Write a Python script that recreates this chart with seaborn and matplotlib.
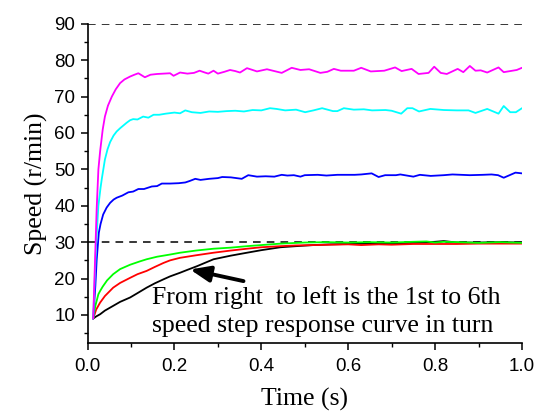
import numpy as np
import pandas as pd
import matplotlib
matplotlib.use("Agg")
import matplotlib.pyplot as plt
import seaborn as sns
from matplotlib.ticker import MultipleLocator

# ---- step response data (time in s, speed in r/min) ----
t_magenta = [0.013, 0.021, 0.025, 0.029, 0.035, 0.040, 0.047, 0.056, 0.065, 0.075, 0.085, 0.098,
             0.108, 0.117, 0.132, 0.145, 0.160, 0.175, 0.190, 0.198, 0.213, 0.230, 0.245, 0.258,
             0.270, 0.278, 0.290, 0.300, 0.315, 0.328, 0.340, 0.351, 0.367, 0.380, 0.390, 0.413,
             0.430, 0.447, 0.470, 0.490, 0.510, 0.536, 0.552, 0.567, 0.583, 0.613, 0.630, 0.652,
             0.683, 0.708, 0.723, 0.746, 0.762, 0.785, 0.798, 0.813, 0.827, 0.852, 0.865, 0.880,
             0.893, 0.905, 0.920, 0.946, 0.958, 0.988, 1.000]
v_magenta = [9.0, 39.0, 50.0, 55.0, 61.0, 64.5, 67.5, 70.0, 72.0, 73.7, 74.7, 75.5,
             76.0, 76.4, 75.3, 76.0, 76.2, 76.3, 76.4, 75.7, 76.6, 76.3, 76.5, 77.1,
             76.6, 76.3, 77.1, 76.3, 76.8, 77.3, 77.0, 76.6, 77.8, 77.3, 76.9, 77.5,
             77.0, 76.5, 77.9, 77.3, 77.5, 76.5, 76.8, 77.6, 77.1, 77.1, 77.9, 76.9,
             77.1, 78.0, 77.0, 77.6, 76.2, 76.5, 78.2, 76.5, 76.2, 77.6, 76.7, 78.4,
             77.1, 77.2, 76.6, 78.0, 76.7, 77.3, 77.9]

t_cyan = [0.013, 0.020, 0.025, 0.030, 0.033, 0.040, 0.046, 0.052, 0.060, 0.067, 0.075, 0.082,
          0.090, 0.098, 0.105, 0.115, 0.128, 0.140, 0.152, 0.165, 0.180, 0.200, 0.213, 0.225,
          0.240, 0.260, 0.280, 0.300, 0.320, 0.340, 0.360, 0.380, 0.400, 0.420, 0.435, 0.455,
          0.480, 0.501, 0.520, 0.540, 0.565, 0.575, 0.590, 0.613, 0.636, 0.655, 0.686, 0.700,
          0.722, 0.736, 0.748, 0.763, 0.789, 0.820, 0.850, 0.877, 0.893, 0.920, 0.946, 0.958,
          0.973, 0.986, 1.000]
v_cyan = [9.0, 30.0, 40.0, 45.0, 47.5, 52.7, 55.5, 57.5, 59.3, 60.4, 61.3, 62.0,
          62.8, 63.5, 63.8, 63.7, 64.5, 64.2, 65.0, 65.0, 65.3, 65.6, 65.4, 66.2,
          65.7, 65.5, 65.9, 65.8, 66.0, 66.1, 65.9, 66.3, 66.2, 66.8, 66.6, 66.2,
          66.4, 65.7, 66.2, 66.8, 66.0, 66.0, 66.8, 66.4, 66.5, 66.2, 66.3, 66.1,
          65.3, 66.8, 66.8, 65.9, 66.6, 66.3, 66.2, 66.2, 65.5, 66.6, 65.3, 67.4,
          65.7, 65.7, 66.8]

t_blue = [0.013, 0.018, 0.021, 0.026, 0.030, 0.036, 0.044, 0.052, 0.060, 0.067, 0.080, 0.094,
          0.105, 0.117, 0.130, 0.148, 0.160, 0.171, 0.190, 0.210, 0.225, 0.235, 0.248, 0.260,
          0.280, 0.300, 0.310, 0.330, 0.355, 0.370, 0.390, 0.410, 0.430, 0.447, 0.460, 0.475,
          0.490, 0.500, 0.530, 0.550, 0.575, 0.615, 0.630, 0.654, 0.670, 0.685, 0.710, 0.720,
          0.750, 0.765, 0.790, 0.820, 0.840, 0.880, 0.910, 0.930, 0.945, 0.958, 0.985, 1.000]
v_blue = [9.0, 18.0, 25.0, 32.6, 35.0, 37.6, 39.5, 40.8, 41.7, 42.2, 42.8, 43.7,
          43.9, 44.6, 44.6, 45.3, 45.4, 46.1, 46.1, 46.2, 46.4, 46.8, 47.4, 47.1,
          47.4, 47.6, 47.9, 47.8, 47.4, 48.4, 48.0, 48.1, 48.0, 48.5, 48.3, 48.4,
          48.0, 48.4, 48.5, 48.3, 48.5, 48.5, 48.6, 48.9, 47.9, 48.4, 48.4, 48.6,
          48.0, 48.5, 48.2, 48.4, 48.6, 48.4, 48.5, 48.6, 48.4, 47.7, 49.1, 48.9]

t_green = [0.013, 0.018, 0.025, 0.029, 0.035, 0.045, 0.059, 0.075, 0.098, 0.120, 0.136, 0.160,
           0.190, 0.213, 0.250, 0.290, 0.330, 0.367, 0.400, 0.444, 0.500, 0.550, 0.600, 0.650,
           0.700, 0.750, 0.780, 0.800, 0.820, 0.850, 0.900, 0.950, 1.000]
v_green = [9.0, 12.5, 15.7, 16.6, 17.8, 19.5, 21.2, 22.6, 23.8, 24.7, 25.3, 26.0,
           26.6, 27.1, 27.7, 28.2, 28.5, 28.9, 29.2, 29.6, 29.9, 30.0, 29.9, 30.0,
           29.9, 30.1, 30.2, 29.9, 30.1, 30.0, 29.8, 30.0, 29.8]

t_red = [0.013, 0.020, 0.029, 0.040, 0.059, 0.075, 0.098, 0.115, 0.136, 0.155, 0.175, 0.190,
         0.213, 0.250, 0.290, 0.330, 0.367, 0.400, 0.444, 0.480, 0.520, 0.560, 0.600, 0.630,
         0.670, 0.700, 0.750, 0.800, 0.850, 0.900, 0.950, 1.000]
v_red = [9.0, 11.5, 13.4, 15.2, 17.5, 18.8, 20.2, 21.2, 22.1, 23.2, 24.3, 25.0,
         25.7, 26.4, 27.1, 27.7, 28.2, 28.6, 28.9, 29.1, 29.2, 29.3, 29.4, 29.2,
         29.4, 29.3, 29.5, 29.5, 29.5, 29.6, 29.6, 29.6]

t_black = [0.013, 0.020, 0.029, 0.040, 0.059, 0.075, 0.098, 0.115, 0.136, 0.155, 0.175, 0.190,
           0.213, 0.230, 0.252, 0.270, 0.290, 0.330, 0.367, 0.400, 0.444, 0.480, 0.520, 0.560,
           0.600, 0.650, 0.700, 0.750, 0.800, 0.820, 0.850, 0.900, 0.950, 1.000]
v_black = [9.0, 9.6, 10.2, 11.2, 12.5, 13.6, 14.8, 16.0, 17.5, 18.7, 19.8, 20.6,
           21.6, 22.4, 23.4, 24.3, 25.3, 26.3, 27.1, 27.8, 28.6, 28.9, 29.2, 29.4,
           29.5, 29.6, 29.7, 29.8, 30.1, 30.3, 29.9, 29.9, 30.0, 29.9]

reference_speeds = [90, 30]

curves = {
    "black": (t_black, v_black),
    "red": (t_red, v_red),
    "green": (t_green, v_green),
    "blue": (t_blue, v_blue),
    "cyan": (t_cyan, v_cyan),
    "magenta": (t_magenta, v_magenta),
}
palette = {"black": "#000000", "red": "#FF0000", "green": "#00FF00",
           "blue": "#0000FF", "cyan": "#00FFFF", "magenta": "#FF00FF"}

df = pd.concat(
    [pd.DataFrame({"Time": t, "Speed": v, "curve": name}) for name, (t, v) in curves.items()],
    ignore_index=True,
)

sns.set_theme(style="ticks")
plt.rcParams["font.family"] = ["Liberation Sans", "DejaVu Sans"]
serif = ["Liberation Serif", "DejaVu Serif"]

fig = plt.figure(figsize=(5.37, 4.13), dpi=100)
ax = fig.add_axes([0.163, 0.1695, 0.809, 0.773])

for ref in reference_speeds:
    ax.axhline(ref, color="black", lw=1.1, ls=(0, (5, 4)), zorder=1)

sns.lineplot(data=df, x="Time", y="Speed", hue="curve", palette=palette,
             sort=False, estimator=None, lw=1.3, legend=False, ax=ax, zorder=3)

ax.set_xlim(0.0, 1.0)
ax.set_ylim(2.3, 90)
ax.xaxis.set_minor_locator(MultipleLocator(0.1))
ax.yaxis.set_minor_locator(MultipleLocator(5))
xt = np.arange(0, 1.01, 0.2)
ax.set_xticks(xt)
ax.set_xticklabels([f"{v:.1f}" for v in xt])
ax.set_yticks(np.arange(10, 91, 10))

ax.tick_params(axis="x", which="major", pad=6)
ax.tick_params(axis="y", which="major", pad=4)
ax.tick_params(which="major", direction="out", length=5, width=1.1, labelsize=13.5,
               color="black", labelcolor="black")
ax.tick_params(which="minor", direction="out", length=3, width=1.0, color="black")

for side in ("top", "right"):
    ax.spines[side].set_visible(False)
for side in ("left", "bottom"):
    ax.spines[side].set_linewidth(1.2)
    ax.spines[side].set_color("black")

ax.set_xlabel("Time (s)", family=serif, fontsize=18.5, labelpad=9, color="black")
ax.set_ylabel("Speed (r/min)", family=serif, fontsize=18.5, labelpad=4, color="black")

ax.text(0.148, 12.9, "From right  to left is the 1st to 6th", family=serif,
        fontsize=18.5, ha="left", va="baseline", color="black")
ax.text(0.148, 5.2, "speed step response curve in turn", family=serif,
        fontsize=18.5, ha="left", va="baseline", color="black")
ax.annotate("", xy=(0.236, 22.5), xytext=(0.359, 19.3),
            arrowprops=dict(arrowstyle="-|>,head_length=1.0,head_width=0.4",
                            lw=2.8, color="black", shrinkA=0, shrinkB=0))

fig.savefig("out.png", dpi=100, facecolor="white")
